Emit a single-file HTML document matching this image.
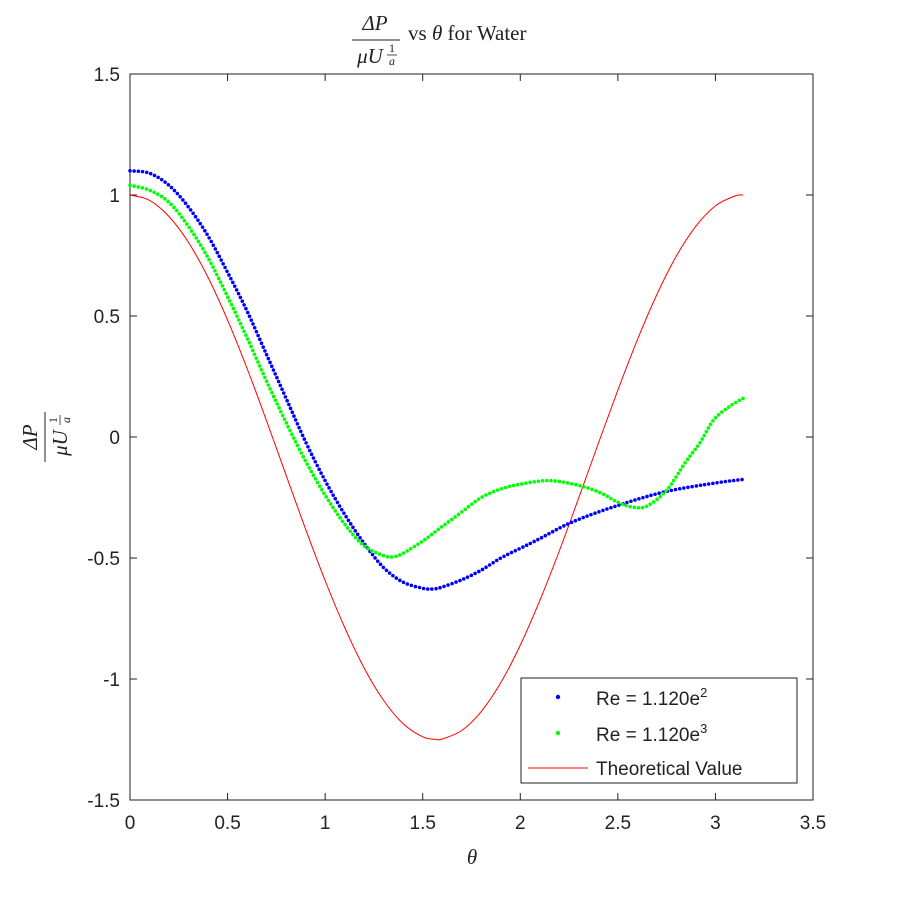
<!DOCTYPE html>
<html><head><meta charset="utf-8"><style>
body{margin:0;background:#fff}
svg{display:block;font-family:"Liberation Sans",sans-serif}
.serif{font-family:"Liberation Serif",serif}
</style></head><body>
<svg id="chart" width="900" height="900">
<rect x="0" y="0" width="900" height="900" fill="#fff"/>
<g id="axes"></g>
<g id="series"></g>
<g class="serif" fill="#222">
 <text x="375" y="30" font-size="21" font-style="italic" text-anchor="middle">ΔP</text>
 <line x1="352" y1="40" x2="400" y2="40" stroke="#222" stroke-width="1"/>
 <text x="370" y="63" font-size="21" font-style="italic" text-anchor="middle">μU</text>
 <text x="392" y="52" font-size="12" text-anchor="middle">1</text>
 <line x1="387" y1="55" x2="397" y2="55" stroke="#222" stroke-width="0.8"/>
 <text x="392" y="65" font-size="12" font-style="italic" text-anchor="middle">a</text>
 <text x="408" y="40" font-size="21">vs <tspan font-style="italic">θ</tspan> for Water</text>
</g>
<g class="serif" fill="#222" transform="translate(45,437) rotate(-90)">
 <text x="0" y="-8" font-size="21" font-style="italic" text-anchor="middle">ΔP</text>
 <line x1="-25" y1="0" x2="25" y2="0" stroke="#222" stroke-width="1"/>
 <text x="-6" y="22" font-size="21" font-style="italic" text-anchor="middle">μU</text>
 <text x="17" y="12" font-size="12" text-anchor="middle">1</text>
 <line x1="12" y1="15" x2="22" y2="15" stroke="#222" stroke-width="0.8"/>
 <text x="17" y="25" font-size="12" font-style="italic" text-anchor="middle">a</text>
</g>
<text class="serif" x="472" y="864" font-size="21" font-style="italic" fill="#222" text-anchor="middle">θ</text>
<g>
 <rect x="521" y="678" width="276" height="105" fill="#fff" stroke="#222" stroke-width="1"/>
 <g><circle cx="558" cy="697" r="2.2" fill="#0000ff"/><text x="596" y="705" font-size="19" fill="#222">Re = 1.120e<tspan font-size="13" dy="-8">2</tspan></text></g>
 <g><circle cx="558" cy="733" r="2.2" fill="#00ff00"/><text x="596" y="741" font-size="19" fill="#222">Re = 1.120e<tspan font-size="13" dy="-8">3</tspan></text></g>
 <g><line x1="528" y1="768" x2="588" y2="768" stroke="#ff0000" stroke-width="1"/><text x="596" y="775" font-size="19" fill="#222">Theoretical Value</text></g>
</g>
</svg>
<script>
const thetaT=[0,0.1,0.2,0.3,0.4,0.5,0.6,0.7,0.8,0.9,1.0,1.1,1.2,1.3,1.4,1.5,1.571,1.6,1.7,1.8,1.9,2.0,2.1,2.2,2.3,2.4,2.5,2.6,2.7,2.8,2.9,3.0,3.1,3.1416];
const theory=[1,0.978,0.911,0.804,0.659,0.483,0.283,0.066,-0.158,-0.381,-0.593,-0.787,-0.955,-1.089,-1.185,-1.239,-1.25,-1.248,-1.213,-1.134,-1.015,-0.86,-0.676,-0.471,-0.251,-0.027,0.194,0.402,0.589,0.748,0.871,0.955,0.996,1];
const thetaB=[0,0.1,0.2,0.3,0.4,0.5,0.6,0.7,0.8,0.9,1.0,1.1,1.2,1.3,1.4,1.5,1.55,1.6,1.7,1.8,1.9,2.0,2.1,2.27,2.51,2.75,3.0,3.1416];
const blue=[1.1,1.09,1.04,0.95,0.83,0.68,0.52,0.34,0.16,-0.02,-0.18,-0.32,-0.44,-0.54,-0.6,-0.625,-0.628,-0.62,-0.59,-0.55,-0.5,-0.46,-0.42,-0.35,-0.28,-0.225,-0.19,-0.175];
const thetaG=[0,0.1,0.2,0.3,0.4,0.5,0.6,0.7,0.8,0.9,1.0,1.1,1.2,1.3,1.35,1.4,1.5,1.6,1.7,1.8,1.9,2.0,2.15,2.3,2.41,2.5,2.58,2.65,2.75,2.85,2.92,2.99,3.07,3.1416];
const green=[1.04,1.02,0.97,0.87,0.74,0.58,0.41,0.23,0.06,-0.1,-0.24,-0.36,-0.45,-0.49,-0.495,-0.48,-0.43,-0.37,-0.31,-0.25,-0.215,-0.195,-0.18,-0.2,-0.23,-0.27,-0.29,-0.285,-0.22,-0.1,-0.025,0.07,0.125,0.16];
const xTicks=[0,0.5,1,1.5,2,2.5,3,3.5];
const yTicks=[-1.5,-1,-0.5,0,0.5,1,1.5];
const X0=130,X1=813,Y0=800,Y1=74;
function sx(v){return X0+(v-0)/(3.5-0)*(X1-X0);}
function sy(v){return Y0-(v+1.5)/3*(Y0-Y1);}
const NS='http://www.w3.org/2000/svg';
function mk(t,a,p){const e=document.createElementNS(NS,t);for(const k in a)e.setAttribute(k,a[k]);p.appendChild(e);return e;}
const ax=document.getElementById('axes');
const frame=mk('rect',{x:X0,y:Y1,width:X1-X0,height:Y0-Y1,fill:'none',stroke:'#222','stroke-width':1},ax);


xTicks.forEach(v=>{
 const x=sx(v);
 mk('line',{x1:x,y1:Y0,x2:x,y2:Y0-7,stroke:'#222'},ax);
 mk('line',{x1:x,y1:Y1,x2:x,y2:Y1+7,stroke:'#222'},ax);
 const t=mk('text',{x:x,y:Y0+29,'font-size':19,'text-anchor':'middle',fill:'#222'},ax);
 t.textContent=String(v);
 
 
});
yTicks.forEach(v=>{
 const y=sy(v);
 mk('line',{x1:X0,y1:y,x2:X0+7,y2:y,stroke:'#222'},ax);
 mk('line',{x1:X1,y1:y,x2:X1-7,y2:y,stroke:'#222'},ax);
 const t=mk('text',{x:X0-10,y:y+7,'font-size':19,'text-anchor':'end',fill:'#222'},ax);
 t.textContent=String(v);
 
 
});
const sg=document.getElementById('series');
function smooth(xs,ys){
 const P=xs.map((x,i)=>[sx(x),sy(ys[i])]);
 let d='M'+P[0][0].toFixed(1)+','+P[0][1].toFixed(1);
 for(let i=0;i<P.length-1;i++){
  const p0=P[Math.max(0,i-1)],p1=P[i],p2=P[i+1],p3=P[Math.min(P.length-1,i+2)];
  const c1=[p1[0]+(p2[0]-p0[0])/6,p1[1]+(p2[1]-p0[1])/6];
  const c2=[p2[0]-(p3[0]-p1[0])/6,p2[1]-(p3[1]-p1[1])/6];
  d+=' C'+c1.map(v=>v.toFixed(1)).join(',')+' '+c2.map(v=>v.toFixed(1)).join(',')+' '+p2.map(v=>v.toFixed(1)).join(',');
 }
 return d;
}
const lr=mk('path',{d:smooth(thetaT,theory),fill:'none',stroke:'#ff0000','stroke-width':1},sg);


const lb=mk('path',{d:smooth(thetaB,blue),fill:'none',stroke:'#0000ff','stroke-width':3.6,'stroke-linecap':'round','stroke-dasharray':'0 4.2'},sg);


const lg=mk('path',{d:smooth(thetaG,green),fill:'none',stroke:'#00ff00','stroke-width':3.6,'stroke-linecap':'round','stroke-dasharray':'0 4.2'},sg);


</script>
</body></html>
